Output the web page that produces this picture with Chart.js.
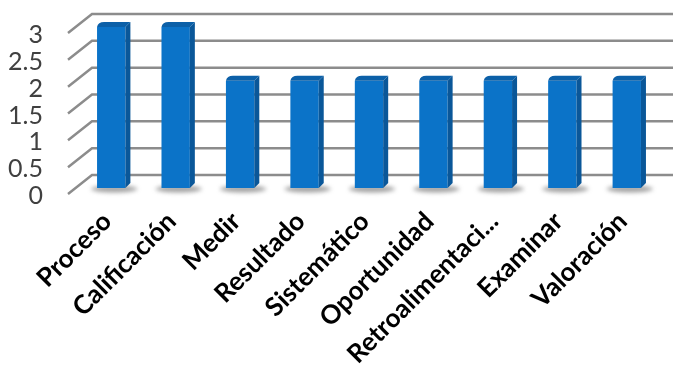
<!DOCTYPE html>
<html>
<head>
<meta charset="utf-8">
<script src="https://cdn.jsdelivr.net/npm/chart.js@4"></script>
<style>
  body { margin: 0; background: #fff; }
  canvas { display: block; }
</style>
</head>
<body>
<canvas id="chart" width="673" height="369"></canvas>
<script>
const CATEGORIES = ['Proceso', 'Calificación', 'Medir', 'Resultado', 'Sistemático', 'Oportunidad', 'Retroalimentaci...', 'Examinar', 'Valoración'];
const VALUES = [3, 3, 2, 2, 2, 2, 2, 2, 2];
const Y_MIN = 0;
const Y_MAX = 3;
const Y_STEP = 0.5;

// fake 3D look: back wall lines, side/top faces and a soft floor shadow
const bar3d = {
    id: 'bar3d',
    beforeDatasetsDraw(chart) {
        const { ctx, chartArea, scales: { y } } = chart;
        ctx.save();
        ctx.strokeStyle = '#8c8c8c';
        ctx.lineWidth = 2.5;
        y.ticks.forEach(t => {
            const p = y.getPixelForValue(t.value);
            ctx.beginPath();
            ctx.moveTo(chartArea.left - 11, p + 6);
            ctx.lineTo(chartArea.left + 13, p - 13);
            ctx.lineTo(chart.width, p - 13);
            ctx.stroke();
        });
        ctx.filter = 'blur(2px)';
        ctx.fillStyle = 'rgba(90,90,90,0.55)';
        chart.getDatasetMeta(0).data.forEach(bar => {
            const { x, base, width } = bar.getProps(['x', 'base', 'width'], true);
            ctx.beginPath();
            ctx.ellipse(x + 3, base + 1, width / 2 + 9, 3.5, 0, 0, Math.PI * 2);
            ctx.fill();
        });
        ctx.restore();
    },
    afterDatasetsDraw(chart) {
        const { ctx } = chart;
        const d = 5;
        ctx.save();
        chart.getDatasetMeta(0).data.forEach(bar => {
            const { x, y, base, width } = bar.getProps(['x', 'y', 'base', 'width'], true);
            const l = x - width / 2, r = x + width / 2;
            ctx.fillStyle = '#0a5799';
            ctx.beginPath();
            ctx.moveTo(r, y);
            ctx.lineTo(r + d, y - d);
            ctx.lineTo(r + d, base - d);
            ctx.lineTo(r, base);
            ctx.closePath();
            ctx.fill();
            ctx.fillStyle = '#0c60a8';
            ctx.beginPath();
            ctx.moveTo(l, y);
            ctx.quadraticCurveTo(l + 1, y - d, l + d + 2, y - d);
            ctx.lineTo(r + d, y - d);
            ctx.lineTo(r, y);
            ctx.closePath();
            ctx.fill();
        });
        ctx.restore();
    }
};

new Chart(document.getElementById('chart'), {
    type: 'bar',
    data: {
        labels: CATEGORIES,
        datasets: [{
            data: VALUES,
            backgroundColor: '#0b73c8',
            borderWidth: 0,
            barPercentage: 0.44,
            categoryPercentage: 1
        }]
    },
    options: {
        responsive: false,
        animation: false,
        layout: { padding: { top: 27, right: 14, left: 0, bottom: 0 } },
        plugins: {
            legend: { display: false },
            tooltip: { enabled: false }
        },
        scales: {
            x: {
                grid: { display: false, drawTicks: false },
                border: { display: false },
                ticks: {
                    minRotation: 45,
                    maxRotation: 45,
                    autoSkip: false,
                    padding: 18,
                    labelOffset: -4,
                    color: '#000',
                    font: { family: 'Lato', size: 26, weight: 'bold' }
                },
                afterFit(scale) {
                    scale.height = 181;
                    scale.paddingLeft = 0;
                    scale.paddingRight = 0;
                }
            },
            y: {
                min: Y_MIN,
                max: Y_MAX,
                grid: { display: false, drawTicks: false },
                border: { display: false },
                ticks: {
                    stepSize: Y_STEP,
                    autoSkip: false,
                    padding: 36,
                    labelOffset: 8,
                    color: '#404040',
                    font: { family: 'Lato', size: 25 },
                    callback: v => String(v)
                },
                afterFit(scale) {
                    scale.width = 79;
                    scale.paddingTop = 0;
                    scale.paddingBottom = 0;
                }
            }
        }
    },
    plugins: [bar3d]
});
</script>
</body>
</html>
